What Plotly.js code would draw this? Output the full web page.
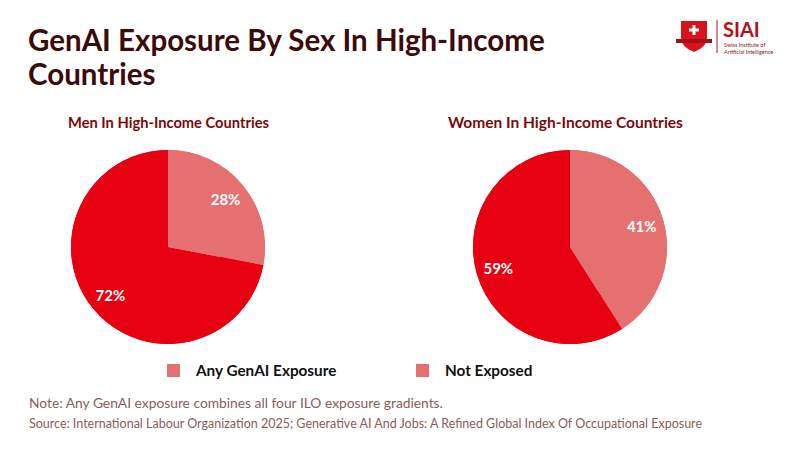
<!DOCTYPE html>
<html>
<head>
<meta charset="utf-8">
<script src="https://cdn.plot.ly/plotly-3.0.1.min.js"></script>
<style>html,body{margin:0;padding:0;background:#fff;}#chart{width:800px;height:450px;}</style>
</head>
<body>
<div id="chart"></div>
<script>
const categories = ["Not Exposed", "Any GenAI Exposure"];
const legendOrder = ["Any GenAI Exposure", "Not Exposed"];
const menValues = [28, 72];
const womenValues = [41, 59];
const panelTitles = ["Men In High-Income Countries", "Women In High-Income Countries"];
const titleLines = ["GenAI Exposure By Sex In High-Income", "Countries"];
const noteText = "Note: Any GenAI exposure combines all four ILO exposure gradients.";
const sourceText = "Source: International Labour Organization 2025; Generative AI And Jobs: A Refined Global Index Of Occupational Exposure";

const RED = "#E60012", PINK = "#E57070";
const FONT = "Lato, 'Noto Sans', sans-serif";
const PIE_Y = [0.2356, 0.6667];

// base pie (full disc, no text) + ring pie on top carrying the labels
function basePie(values, dx) {
  return {
    type: "pie", labels: categories, values: values,
    sort: false, direction: "clockwise", rotation: 0,
    marker: {colors: [PINK, RED], line: {width: 0}},
    textinfo: "none", hoverinfo: "skip", showlegend: false,
    domain: {x: dx, y: PIE_Y}
  };
}
function ringPie(values, dx) {
  return {
    type: "pie", labels: categories, values: values, hole: 0.54,
    sort: false, direction: "clockwise", rotation: 0,
    marker: {colors: [PINK, RED], line: {width: 0}},
    textinfo: "percent", textposition: "inside", insidetextorientation: "horizontal",
    textfont: {family: FONT, size: 15, color: "#fff", weight: "bold"},
    hoverinfo: "skip", showlegend: false,
    domain: {x: dx, y: PIE_Y}
  };
}
const MEN_X = [0.08875, 0.33125], WOMEN_X = [0.59125, 0.83375];
const data = [basePie(menValues, MEN_X), ringPie(menValues, MEN_X), basePie(womenValues, WOMEN_X), ringPie(womenValues, WOMEN_X)];

function px(x){return x/800;} function py(y){return 1 - y/450;}
function txt(t, x, y, size, color, xa, extra) {
  return Object.assign({text: t, x: px(x), y: py(y), xanchor: xa || "left", yanchor: "middle", align: "left",
    font: {family: FONT, size: size, color: color}, showarrow: false, xref: "paper", yref: "paper"}, extra || {});
}
const ann = [
  txt("<b>" + titleLines[0] + "</b>", 26, 39, 29.5, "#3B0A0A"),
  txt("<b>" + titleLines[1] + "</b>", 26, 74, 29.5, "#3B0A0A"),
  txt("<b>" + panelTitles[0] + "</b>", 168, 122, 14.7, "#7A0A0A", "center"),
  txt("<b>" + panelTitles[1] + "</b>", 565, 122, 15.5, "#7A0A0A", "center"),
  txt("<b>" + legendOrder[0] + "</b>", 193, 370, 15.3, "#111"),
  txt("<b>" + legendOrder[1] + "</b>", 443, 370, 15.3, "#111"),
  txt(noteText, 27, 402, 13.8, "#8A5C5C"),
  txt(sourceText, 27, 423, 12.5, "#8A5C5C"),
  txt("<b>SIAI</b>", 721, 29, 20, "#B5121B"),
  txt("Swiss Institute of<br>Artificial Intelligence", 722, 48, 5.5, "#8A1A1A")
];

const shapes = [
  {type: "rect", xref: "paper", yref: "paper", x0: px(167), x1: px(180), y0: py(364), y1: py(377), fillcolor: PINK, line: {width: 0}},
  {type: "rect", xref: "paper", yref: "paper", x0: px(416), x1: px(429), y0: py(364), y1: py(377), fillcolor: PINK, line: {width: 0}},
  {type: "path", xref: "paper", yref: "paper",
   path: "M " + px(681) + "," + py(21) + " L " + px(707) + "," + py(21) + " L " + px(707) + "," + py(38) + " Q " + px(707) + "," + py(47) + " " + px(694) + "," + py(52) + " Q " + px(681) + "," + py(47) + " " + px(681) + "," + py(38) + " Z",
   fillcolor: "#D7141E", line: {width: 0}},
  {type: "rect", xref: "paper", yref: "paper", x0: px(676), x1: px(712), y0: py(39), y1: py(43), fillcolor: "#A50F18", line: {width: 0}},
  {type: "rect", xref: "paper", yref: "paper", x0: px(692.5), x1: px(695.5), y0: py(25), y1: py(35), fillcolor: "#fff", line: {width: 0}},
  {type: "rect", xref: "paper", yref: "paper", x0: px(689), x1: px(699), y0: py(28.5), y1: py(31.5), fillcolor: "#fff", line: {width: 0}},
  {type: "line", xref: "paper", yref: "paper", x0: px(717), x1: px(717), y0: py(20), y1: py(53), line: {color: "#B5121B", width: 1}}
];

const layout = {
  width: 800, height: 450, margin: {l: 0, r: 0, t: 0, b: 0},
  paper_bgcolor: "#fff", plot_bgcolor: "#fff",
  showlegend: false, hovermode: false,
  font: {family: FONT},
  annotations: ann, shapes: shapes
};
Plotly.newPlot("chart", data, layout, {displayModeBar: false, staticPlot: true});
</script>
</body>
</html>
